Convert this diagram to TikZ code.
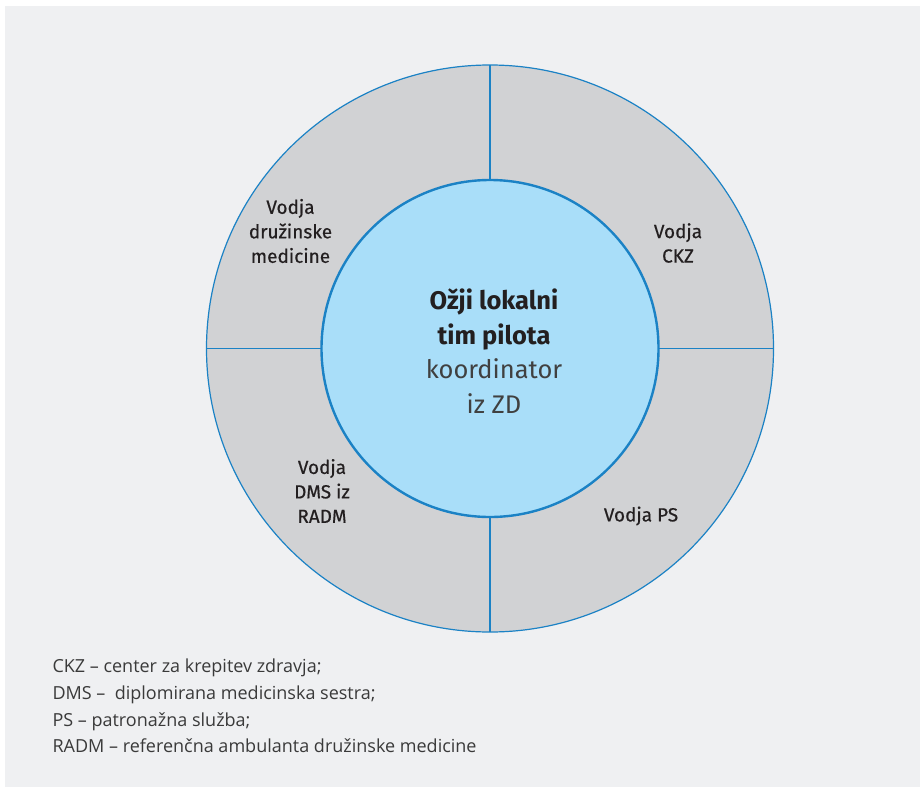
\documentclass[tikz,border=0pt]{standalone}
\usepackage{fontspec}
\setmainfont{Open Sans}
\newfontfamily\labelfont{Fira Sans}
\newfontfamily\rolefont{Fira Sans}[FakeBold=0.5]
\usepackage{xcolor}
\definecolor{pagegray}{HTML}{EFF0F2}
\definecolor{ringgray}{HTML}{D1D2D4}
\definecolor{coreblue}{HTML}{A9DEF9}
\definecolor{edgeblue}{HTML}{1B82C5}
\definecolor{inkgray}{HTML}{3A3A3A}
\definecolor{labelink}{HTML}{231F20}
\usepackage{tikz}
\usetikzlibrary{positioning}
\tikzset{
  ring/.style  ={ circle, draw=edgeblue, line width=1.2pt, fill=ringgray,
                  inner sep=0pt, outer sep=0pt, minimum size=567pt },
  core/.style  ={ circle, draw=edgeblue, line width=2.4pt, fill=coreblue,
                  inner sep=0pt, outer sep=0pt, minimum size=337pt },
  spoke/.style ={ draw=edgeblue, line width=1.2pt },
  role/.style  ={ font=\rolefont\fontsize{19}{24.5}\selectfont, align=center, text=labelink },
  lead/.style  ={ font=\labelfont\fontsize{25.5}{34.5}\selectfont, align=center, text=labelink },
  legend/.style={ font=\fontsize{18}{26}\selectfont, anchor=base west, text=inkgray }
}

\begin{document}
\begin{tikzpicture}[x=1pt,y=-1pt]
        \useasboundingbox[fill=white] (0,0) rectangle (920,787);
        \fill[pagegray] (5,6) rectangle (920,787);
%
        \node[ring] (ring) at (490, 348.5) {};
        \node[core] (core) at (490, 348.5) {};
        \draw[spoke] (core.north) -- (ring.north);
        \draw[spoke] (core.south) -- (ring.south);
        \draw[spoke] (core.west) -- (ring.west);
        \draw[spoke] (core.east) -- (ring.east);
%
        \node[lead] (team) at (494, 351) {{\bfseries Ožji lokalni}\\{\bfseries tim pilota}\\{\color{black!75}koordinator}\\{\color{black!75}iz ZD}};
        \node[role] (dm) at (290.5, 231) {Vodja\\družinske\\medicine};
        \node[role] (ckz) at (678, 243) {Vodja\\CKZ};
        \node[role] (dms) at (322, 491) {Vodja\\DMS iz\\RADM};
        \node[role] (ps) at (641, 516) {Vodja PS};
%
        \node[legend] (keyckz) at (49, 672) {CKZ – center za krepitev zdravja;};
        \node[legend] (keydms) at (49, 699) {DMS –\ \ diplomirana medicinska sestra;};
        \node[legend] (keyps) at (49, 726) {PS – patronažna služba;};
        \node[legend] (keyradm) at (49, 752) {RADM – referenčna ambulanta družinske medicine};
      \end{tikzpicture}
\end{document}
